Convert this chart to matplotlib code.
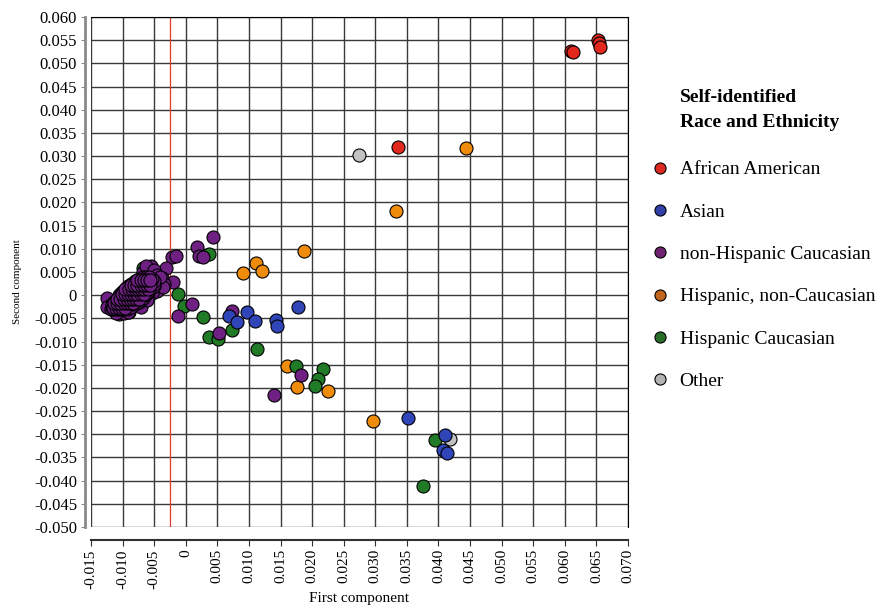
import numpy as np
import matplotlib
matplotlib.use('Agg')
import matplotlib.pyplot as plt
from matplotlib.lines import Line2D

plt.rcParams['font.family'] = ['Liberation Serif', 'DejaVu Serif']

# African American
aa_x = [0.0610, 0.0613, 0.0653, 0.0654, 0.0655, 0.0336]
aa_y = [0.0527, 0.0525, 0.0550, 0.0543, 0.0535, 0.0320]

# Asian
as_x = [0.0178, 0.0097, 0.0068, 0.0081, 0.0110, 0.0143, 0.0144, 0.0351, 0.0410, 0.0407, 0.0414]
as_y = [-0.0026, -0.0036, -0.0045, -0.0058, -0.0056, -0.0054, -0.0067, -0.0265, -0.0301, -0.0333, -0.0340]

# non-Hispanic Caucasian, scattered samples
nh_x = [0.0043, 0.0018, 0.0021, 0.0027, -0.0022, -0.0016, -0.0031, -0.0020, -0.0012, 0.0010,
        0.0073, 0.0053, 0.0182, 0.0139,
        -0.0106, -0.0097, -0.0090, -0.0120, -0.0125, -0.0124, -0.0111, -0.0092,
        -0.0068, -0.0060, -0.0055, -0.0063, -0.0050, -0.0045, -0.0037,
        -0.0035, -0.0040, -0.0046, -0.0053, -0.0060, -0.0036, -0.0041, -0.0071, -0.0061]
nh_y = [0.0125, 0.0105, 0.0084, 0.0083, 0.0082, 0.0084, 0.0059, 0.0028, -0.0045, -0.0020,
        -0.0034, -0.0082, -0.0173, -0.0215,
        -0.0041, -0.0038, -0.0036, -0.0027, -0.0006, -0.0026, -0.0039, -0.0036,
        0.0049, 0.0053, 0.0064, 0.0064, 0.0054, 0.0043, 0.0036,
        0.0025, 0.0015, 0.0010, 0.0004, -0.0003, 0.0018, 0.0039, -0.0025, -0.0011]

# non-Hispanic Caucasian, dense cluster read row by row (second component, first components)
cluster_y = [-0.0030, -0.0025, -0.0020, -0.0015, -0.0010, -0.0005, 0.0000, 0.0005,
             0.0010, 0.0015, 0.0020, 0.0025, 0.0030, 0.0035, 0.0040,
             -0.00275, -0.00175, -0.00075, 0.00025, 0.00125, 0.00225, 0.00325]
cluster_x = [
    [-0.0118, -0.0113, -0.0108, -0.0103, -0.0098, -0.0093],
    [-0.0117, -0.0112, -0.0107, -0.0102, -0.0097, -0.0092, -0.0087],
    [-0.0116, -0.0111, -0.0106, -0.0101, -0.0096, -0.0091, -0.0086, -0.0081],
    [-0.0114, -0.0109, -0.0104, -0.0099, -0.0094, -0.0089, -0.0084, -0.0079, -0.0074],
    [-0.0111, -0.0106, -0.0101, -0.0096, -0.0091, -0.0086, -0.0081, -0.0076, -0.0071],
    [-0.0108, -0.0103, -0.0098, -0.0093, -0.0088, -0.0083, -0.0078, -0.0073, -0.0068],
    [-0.0105, -0.0100, -0.0095, -0.0090, -0.0085, -0.0080, -0.0075, -0.0070, -0.0065],
    [-0.0102, -0.0097, -0.0092, -0.0087, -0.0082, -0.0077, -0.0072, -0.0067, -0.0062],
    [-0.0099, -0.0094, -0.0089, -0.0084, -0.0079, -0.0074, -0.0069, -0.0064, -0.0059],
    [-0.0095, -0.0090, -0.0085, -0.0080, -0.0075, -0.0070, -0.0065, -0.0060, -0.0055],
    [-0.0091, -0.0086, -0.0081, -0.0076, -0.0071, -0.0066, -0.0061, -0.0056, -0.0051],
    [-0.0086, -0.0081, -0.0076, -0.0071, -0.0066, -0.0061, -0.0056, -0.0051],
    [-0.0080, -0.0075, -0.0070, -0.0065, -0.0060, -0.0055, -0.0050],
    [-0.0074, -0.0069, -0.0064, -0.0059, -0.0054],
    [-0.0068, -0.0063, -0.0058],
    [-0.01155, -0.01105, -0.01055, -0.01005, -0.00955],
    [-0.01135, -0.01085, -0.01035, -0.00985, -0.00935, -0.00885, -0.00835],
    [-0.01085, -0.01035, -0.00985, -0.00935, -0.00885, -0.00835, -0.00785, -0.00735],
    [-0.01015, -0.00965, -0.00915, -0.00865, -0.00815, -0.00765, -0.00715, -0.00665],
    [-0.00955, -0.00905, -0.00855, -0.00805, -0.00755, -0.00705, -0.00655, -0.00605],
    [-0.00865, -0.00815, -0.00765, -0.00715, -0.00665, -0.00615, -0.00565],
    [-0.00765, -0.00715, -0.00665, -0.00615, -0.00565],
]

# Hispanic, non-Caucasian
hn_x = [0.0444, 0.0333, 0.0187, 0.0111, 0.0121, 0.0091, 0.0161, 0.0176, 0.0225, 0.0297]
hn_y = [0.0317, 0.0182, 0.0095, 0.0069, 0.0052, 0.0048, -0.0153, -0.0197, -0.0207, -0.0272]

# Hispanic Caucasian
hc_x = [0.0376, 0.0395, 0.0174, 0.0218, 0.0210, 0.0204, -0.0012, -0.0003, 0.0027, 0.0037,
        0.0051, 0.0073, 0.0112, 0.0037, -0.0068]
hc_y = [-0.0412, -0.0313, -0.0152, -0.0160, -0.0180, -0.0196, 0.0003, -0.0023, -0.0047, -0.0090,
        -0.0095, -0.0075, -0.0116, 0.0089, 0.0059]

# Other
ot_x = [0.0274, 0.0419]
ot_y = [0.0302, -0.0311]

groups = ['African American', 'Asian', 'non-Hispanic Caucasian',
          'Hispanic, non-Caucasian', 'Hispanic Caucasian', 'Other']
point_colors = ['#e2281c', '#3045b8', '#6f2183', '#f08c0c', '#217a26', '#c2c2c2']
legend_colors = ['#dc2a22', '#3340a8', '#6e246e', '#c0661e', '#2a6e2a', '#b4b4b4']

xticks = np.linspace(-0.015, 0.070, 18)
yticks = np.linspace(-0.050, 0.060, 23)


def fmt(v):
    if abs(v) < 1e-9:
        return '0'
    return '%.3f' % v


# flatten the cluster rows
for yv, row in zip(cluster_y, cluster_x):
    nh_x = nh_x + row
    nh_y = nh_y + [yv] * len(row)

fig = plt.figure(figsize=(8.84, 6.07), dpi=100)
ax = fig.add_axes([91 / 884, 1 - 527 / 607, 537 / 884, 510 / 607])

ax.set_xlim(-0.015, 0.070)
ax.set_ylim(-0.050, 0.060)
ax.set_xticks(xticks)
ax.set_yticks(yticks)
ax.set_xticklabels([fmt(v) for v in xticks])
ax.set_yticklabels([fmt(v) for v in yticks])
ax.grid(True, color='#3a3a3a', lw=1.0)
ax.set_axisbelow(True)

for s in ['top', 'right']:
    ax.spines[s].set_color('black')
ax.spines['left'].set_position(('outward', 4))
ax.spines['left'].set_color('#8a8a8a')
ax.spines['left'].set_linewidth(2)
ax.spines['bottom'].set_position(('outward', 9))
ax.spines['bottom'].set_color('#303030')
ax.spines['bottom'].set_linewidth(1.5)
ax.tick_params(axis='y', colors='#8a8a8a', labelcolor='black', length=3, pad=3, labelsize=12)
ax.tick_params(axis='x', colors='#303030', labelcolor='black', length=4, pad=3, labelsize=11,
               labelrotation=90)

ax.axvline(-0.0025, color='#e03a2a', lw=0.9, zorder=1.5)

# plot order as in reference
ax.scatter(hn_x, hn_y, s=88, c=point_colors[3], edgecolors='black', linewidths=0.8, zorder=3)
ax.scatter(hc_x, hc_y, s=88, c=point_colors[4], edgecolors='black', linewidths=0.8, zorder=3)
ax.scatter(nh_x, nh_y, s=88, c=point_colors[2], edgecolors='black', linewidths=0.8, zorder=3)
ax.scatter(ot_x, ot_y, s=88, c=point_colors[5], edgecolors='black', linewidths=0.8, zorder=3)
ax.scatter(as_x, as_y, s=88, c=point_colors[1], edgecolors='black', linewidths=0.8, zorder=3)
ax.scatter(aa_x, aa_y, s=88, c=point_colors[0], edgecolors='black', linewidths=0.8, zorder=3)

ax.set_xlabel('First component', fontsize=11)
ax.xaxis.set_label_coords(0.5, -0.127)
ax.set_ylabel('Second component', fontsize=8)
ax.yaxis.set_label_coords(-0.128, 0.482)

fig.text(680 / 884, 1 - 89 / 607, 'Self-identified\nRace and Ethnicity',
         fontsize=14, fontweight='bold', va='top', ha='left', linespacing=1.6)

handles = [Line2D([], [], ls='none', marker='o', markersize=8, markerfacecolor=c,
                  markeredgecolor='black', markeredgewidth=0.8) for c in legend_colors]
fig.legend(handles, groups, loc='upper left', bbox_to_anchor=(642.7 / 884, 1 - 153 / 607),
           frameon=False, fontsize=14, handlelength=1.0, handletextpad=0.5,
           labelspacing=1.27, borderaxespad=0)

fig.savefig('out.png', dpi=100)
